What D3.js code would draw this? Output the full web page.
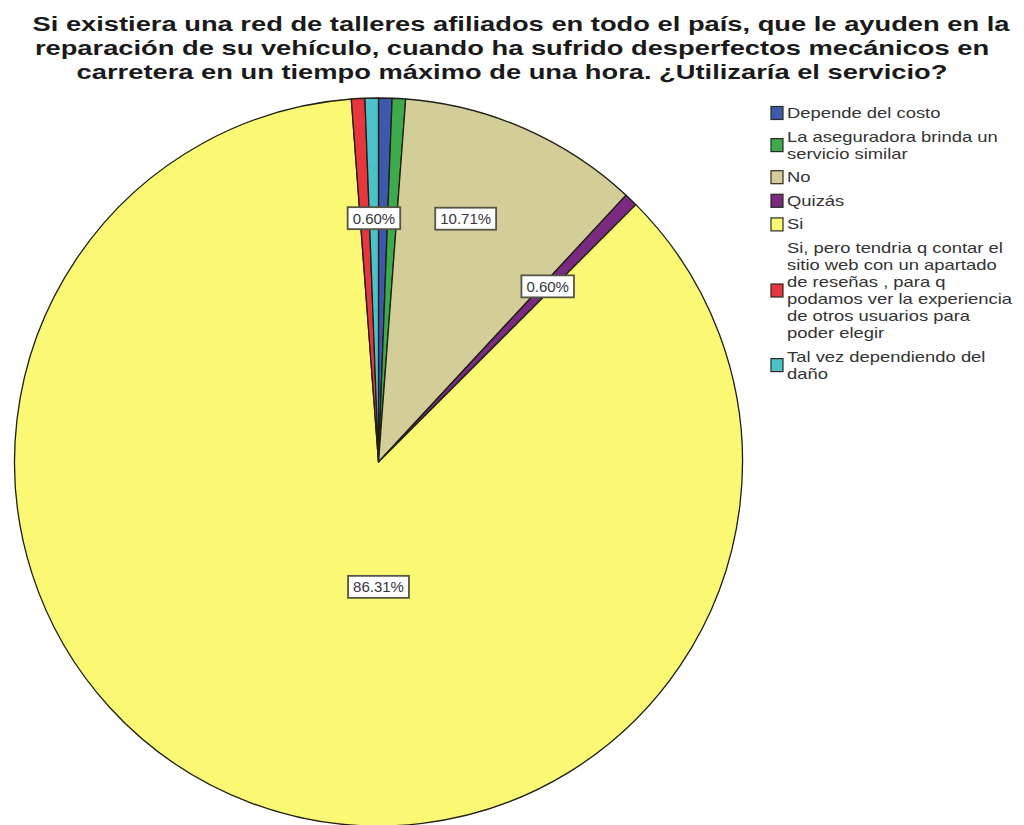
<!DOCTYPE html>
<html>
<head>
<meta charset="utf-8">
<script src="https://cdn.jsdelivr.net/npm/d3@7"></script>
<style>
  html, body { margin: 0; padding: 0; background: #ffffff; }
  svg { display: block; font-family: "Liberation Sans", Arial, sans-serif; }
</style>
</head>
<body>
<svg id="chart" width="1024" height="825"></svg>
<script>
// Survey answers, counts of respondents per answer (n = 168)
const categories = [
  "Depende del costo",
  "La aseguradora brinda un servicio similar",
  "No",
  "Quizás",
  "Si",
  "Si, pero tendria q contar el sitio web con un apartado de reseñas , para q podamos ver la experiencia de otros usuarios para poder elegir",
  "Tal vez dependiendo del daño"
];
const counts = [1, 1, 18, 1, 145, 1, 1];
const percentLabels = ["0.60%", "0.60%", "10.71%", "0.60%", "86.31%", "0.60%", "0.60%"];
const legendLines = [
  ["Depende del costo"],
  ["La aseguradora brinda un", "servicio similar"],
  ["No"],
  ["Quizás"],
  ["Si"],
  ["Si, pero tendria q contar el", "sitio web con un apartado", "de reseñas , para q", "podamos ver la experiencia", "de otros usuarios para", "poder elegir"],
  ["Tal vez dependiendo del", "daño"]
];
const titleLines = [
  "Si existiera una red de talleres afiliados en todo el país, que le ayuden en la",
  "reparación de su vehículo, cuando ha sufrido desperfectos mecánicos en",
  "carretera en un tiempo máximo de una hora. ¿Utilizaría el servicio?"
];

const palette = ["#3e58ac", "#3dab4c", "#d3ce97", "#7a2a80", "#fbf873", "#e8363e", "#4cc1c7"];

const svg = d3.select("#chart");
const color = d3.scaleOrdinal().domain(categories).range(palette);

// ---- Title ----
const title = svg.append("g").attr("class", "title");
const titleSel = title.selectAll("text").data(titleLines).join("text")
  .attr("x", (d, i) => i === 0 ? 521 : 512)
  .attr("y", (d, i) => 31 + i * 24)
  .attr("text-anchor", "middle")
  .attr("font-size", 21)
  .attr("font-weight", "bold")
  .attr("fill", "#1a1a1a")
  .text(d => d);
// Condense the title so the first line spans the header width
const firstW = titleSel.nodes()[0].getComputedTextLength();
const squeeze = 977 / firstW;
titleSel.each(function () {
  const w = this.getComputedTextLength();
  d3.select(this).attr("textLength", w * squeeze).attr("lengthAdjust", "spacingAndGlyphs");
});

// ---- Pie ----
const cx = 378.5, cy = 462, R = 364;
const pie = d3.pie().sort(null).value(d => d.count);
const data = categories.map((c, i) => ({ cat: c, count: counts[i], label: percentLabels[i] }));
const arcs = pie(data);
const arc = d3.arc().innerRadius(0).outerRadius(R);

const g = svg.append("g").attr("transform", `translate(${cx},${cy})`);
g.selectAll("path.slice").data(arcs).join("path")
  .attr("class", "slice")
  .attr("d", arc)
  .attr("fill", d => color(d.data.cat))
  .attr("stroke", "#1e1e14")
  .attr("stroke-width", 1.3)
  .attr("stroke-linejoin", "round");

// ---- Percentage labels (overlapping ones are dropped, later slices win) ----
const labelArc = d3.arc().innerRadius(R * 0.67).outerRadius(R * 0.67);
const maxCount = d3.max(counts);
const placed = [];
const labelG = g.append("g").attr("class", "labels");
for (let i = arcs.length - 1; i >= 0; i--) {
  const a = arcs[i];
  let p;
  if (a.data.count === maxCount) {
    // the dominant slice is labelled straight below the centre
    p = [0, R * 0.343];
  } else {
    p = labelArc.centroid(a);
    // wider slices pull their label toward the leading edge
    const span = a.endAngle - a.startAngle;
    if (span > 0.2) {
      const ang = a.startAngle + span * 0.40, rr = R * 0.71;
      p = [Math.sin(ang) * rr, -Math.cos(ang) * rr];
    }
  }
  const t = labelG.append("text")
    .attr("x", p[0]).attr("y", p[1])
    .attr("text-anchor", "middle")
    .attr("dominant-baseline", "central")
    .attr("font-size", 15)
    .attr("fill", "#363640")
    .text(a.data.label);
  const bb = t.node().getBBox();
  const box = { x: bb.x - 5, y: p[1] - 11, w: bb.width + 10, h: 22 };
  const hit = placed.some(q => !(box.x + box.w < q.x || q.x + q.w < box.x || box.y + box.h < q.y || q.y + q.h < box.y));
  if (hit) { t.remove(); continue; }
  placed.push(box);
  labelG.insert("rect", () => t.node())
    .attr("x", box.x).attr("y", box.y)
    .attr("width", box.w).attr("height", box.h)
    .attr("fill", "#ffffff")
    .attr("stroke", "#555544")
    .attr("stroke-width", 1.8);
}

// ---- Legend ----
const lineH = 17, gap = 6.6;
const legend = svg.append("g").attr("class", "legend").attr("transform", "translate(771,0)");
let rowTop = 113 - lineH / 2;
const textNodes = [];
legendLines.forEach((lines, i) => {
  const blockH = lines.length * lineH;
  const mid = rowTop + blockH / 2;
  legend.append("rect")
    .attr("x", 0).attr("y", mid - 6.5)
    .attr("width", 12).attr("height", 13)
    .attr("fill", color(categories[i]))
    .attr("stroke", "#2a2a22")
    .attr("stroke-width", 1.2);
  lines.forEach((ln, j) => {
    const t = legend.append("text")
      .attr("x", 16)
      .attr("y", rowTop + j * lineH + lineH / 2)
      .attr("dominant-baseline", "central")
      .attr("font-size", 14.5)
      .attr("fill", "#333")
      .text(ln);
    textNodes.push(t);
  });
  rowTop += blockH + gap;
});
// Widen legend text so the longest line reaches the right margin
const widest = d3.max(textNodes, t => t.node().getComputedTextLength());
const stretch = 225 / widest;
textNodes.forEach(t => {
  const w = t.node().getComputedTextLength();
  t.attr("textLength", w * stretch).attr("lengthAdjust", "spacingAndGlyphs");
});
</script>
</body>
</html>
